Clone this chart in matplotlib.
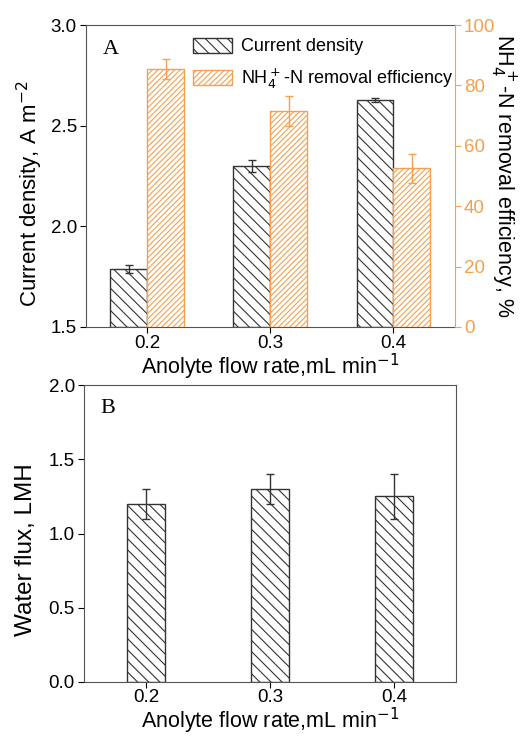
import numpy as np
import matplotlib
matplotlib.use('Agg')
import matplotlib.pyplot as plt
from matplotlib.patches import Patch

plt.rcParams['font.family'] = ['Liberation Sans', 'DejaVu Sans']
plt.rcParams['hatch.linewidth'] = 0.8

# data
flow_rates = ['0.2', '0.3', '0.4']
current_density = [1.79, 2.30, 2.63]
current_err = [0.02, 0.03, 0.01]
removal_eff = [85.4, 71.5, 52.5]
removal_err = [3.3, 5.0, 4.7]
water_flux = [1.20, 1.30, 1.25]
water_err = [0.10, 0.10, 0.15]

orange = '#F5A04E'
gray_spine = '#555555'
x = np.arange(len(flow_rates))
w = 0.3


def style_xlabel(a, ypos):
    a.set_xlabel(r'Anolyte flow rate,mL min$^{-1}$', fontsize=15.5)
    a.xaxis.label.set_va('baseline')
    a.xaxis.set_label_coords(0.5, ypos)


fig = plt.figure(figsize=(5.2, 7.38), dpi=100)

# ---- panel A ----
ax = fig.add_axes([0.165, 0.557, 0.71, 0.409])
ax.bar(x - w / 2, [c - 1.5 for c in current_density], w, bottom=1.5,
       facecolor='white', edgecolor='#333333', hatch='\\\\\\', linewidth=1.0)
ax.errorbar(x - w / 2, current_density, yerr=current_err, fmt='none',
            ecolor='#333333', elinewidth=1.0, capsize=3)
ax.set_ylim(1.5, 3.0)
ax.set_yticks([1.5, 2.0, 2.5, 3.0])
ax.set_xlim(-0.5, 2.5)
ax.set_xticks(x)
ax.set_xticklabels(flow_rates)
ax.set_ylabel(r'Current density, A m$^{-2}$', fontsize=16, va='center')
ax.yaxis.set_label_coords(-0.152, 0.44)
style_xlabel(ax, -0.157)
ax.tick_params(labelsize=13.5, direction='out', length=4, pad=2.5)
ax.tick_params(axis='x', pad=1.5)
ax.text(0.045, 0.92, 'A', transform=ax.transAxes, fontsize=16,
        family='Liberation Serif', va='center')
for s in ['left', 'top', 'bottom']:
    ax.spines[s].set_color(gray_spine)
ax.spines['right'].set_visible(False)

ax2 = ax.twinx()
ax2.bar(x + w / 2, removal_eff, w, facecolor='white', edgecolor=orange,
        hatch='//////', linewidth=1.0)
ax2.errorbar(x + w / 2, removal_eff, yerr=removal_err, fmt='none',
             ecolor=orange, elinewidth=1.0, capsize=3)
ax2.set_ylim(0, 100)
ax2.set_yticks([0, 20, 40, 60, 80, 100])
ax2.tick_params(axis='y', colors=orange, labelsize=13.5, length=4, pad=2.5)
ax2.spines['right'].set_color(orange)
for s in ['left', 'top', 'bottom']:
    ax2.spines[s].set_visible(False)
ax2.set_ylabel(r'NH$_4^+$-N removal efficiency, %', fontsize=15.5,
               rotation=270, va='center', color='black')
ax2.yaxis.set_label_coords(1.13, 0.5)

handles = [Patch(facecolor='white', edgecolor='#333333', hatch='\\\\\\'),
           Patch(facecolor='white', edgecolor=orange, hatch='//////')]
ax2.legend(handles, ['Current density', r'NH$_4^+$-N removal efficiency'],
           loc='upper left', bbox_to_anchor=(0.255, 1.0), frameon=False,
           fontsize=13, handlelength=2.2, handleheight=0.9,
           handletextpad=0.5, labelspacing=0.6, borderaxespad=0.3)

# ---- panel B ----
bx = fig.add_axes([0.1615, 0.076, 0.7155, 0.402])
bx.bar(x, water_flux, w, facecolor='white', edgecolor='#333333',
       hatch='\\\\\\', linewidth=1.0)
bx.errorbar(x, water_flux, yerr=water_err, fmt='none', ecolor='#333333',
            elinewidth=1.0, capsize=3)
bx.set_ylim(0, 2.0)
bx.set_yticks([0.0, 0.5, 1.0, 1.5, 2.0])
bx.set_xlim(-0.5, 2.5)
bx.set_xticks(x)
bx.set_xticklabels(flow_rates)
bx.set_ylabel('Water flux, LMH', fontsize=17.5, va='center')
bx.yaxis.set_label_coords(-0.156, 0.447)
style_xlabel(bx, -0.157)
bx.tick_params(labelsize=13.5, direction='out', length=4, pad=2.5)
bx.tick_params(axis='x', pad=1)
bx.text(0.045, 0.92, 'B', transform=bx.transAxes, fontsize=16,
        family='Liberation Serif', va='center')
for s in bx.spines.values():
    s.set_color(gray_spine)

fig.savefig('out.png', dpi=100)
